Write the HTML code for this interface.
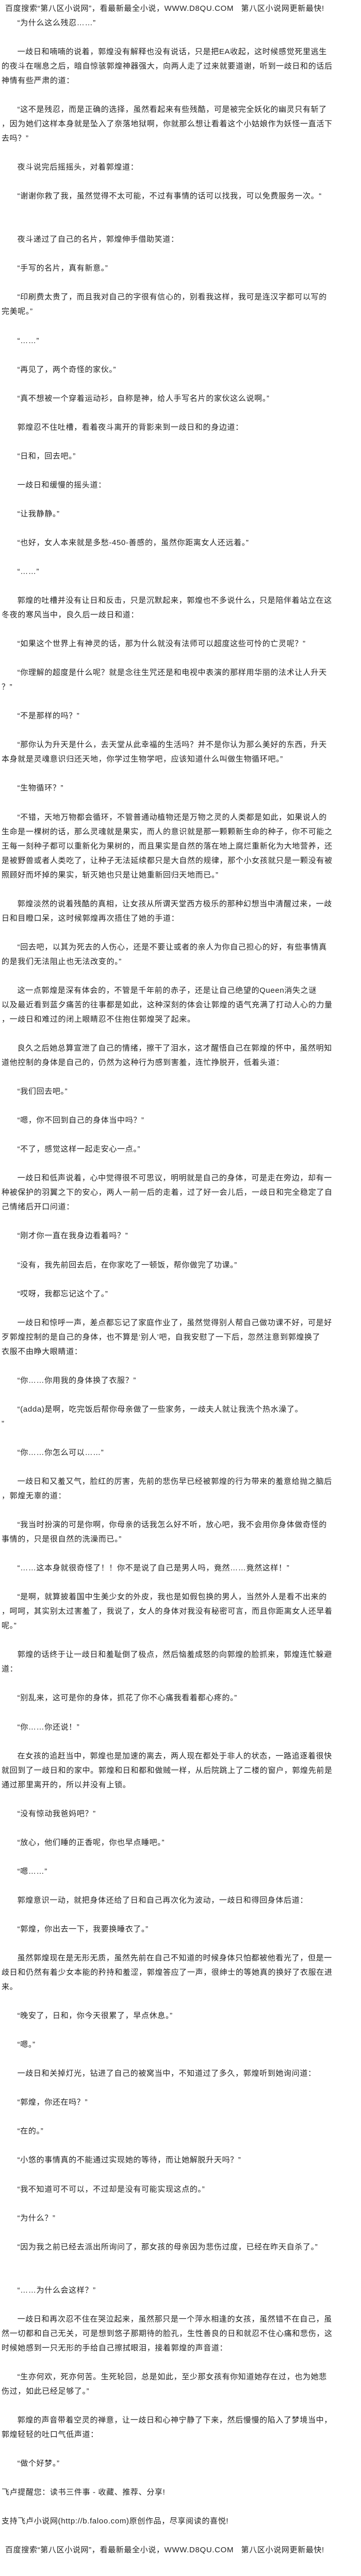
<!DOCTYPE html>
<html lang="zh-CN">
<head>
<meta charset="utf-8">
<style>
html,body{margin:0;padding:0;background:#fff;}
body{width:700px;font-family:"Liberation Sans","Noto Sans CJK SC",sans-serif;font-size:15px;letter-spacing:0.65px;color:#222;}
#w{padding-top:2.8px;width:700px;overflow:hidden;}
#w div{height:28.04px;line-height:28.04px;white-space:nowrap;overflow:hidden;padding-left:3px;}
#w div.i{padding-left:33.6px;}
#w div.h{padding-left:10px;}
</style>
</head>
<body>
<div id="w">
<div class="h">百度搜索“第八区小说网”，看最新最全小说，WWW.D8QU.COM &nbsp; 第八区小说网更新最快!</div>
<div class="i">“为什么这么残忍……”</div>
<div></div>
<div class="i">一歧日和喃喃的说着，郭煌没有解释也没有说话，只是把EA收起，这时候感觉死里逃生</div>
<div>的夜斗在喘息之后，暗自惊骇郭煌神器强大，向两人走了过来就要道谢，听到一歧日和的话后</div>
<div>神情有些严肃的道：</div>
<div></div>
<div class="i">“这不是残忍，而是正确的选择，虽然看起来有些残酷，可是被完全妖化的幽灵只有斩了</div>
<div>，因为她们这样本身就是坠入了奈落地狱啊，你就那么想让看着这个小姑娘作为妖怪一直活下</div>
<div>去吗？”</div>
<div></div>
<div class="i">夜斗说完后摇摇头，对着郭煌道：</div>
<div></div>
<div class="i">“谢谢你救了我，虽然觉得不太可能，不过有事情的话可以找我，可以免费服务一次。“</div>
<div></div>
<div></div>
<div class="i">夜斗递过了自己的名片，郭煌伸手借助笑道：</div>
<div></div>
<div class="i">“手写的名片，真有新意。”</div>
<div></div>
<div class="i">“印刷费太贵了，而且我对自己的字很有信心的，别看我这样，我可是连汉字都可以写的</div>
<div>完美呢。”</div>
<div></div>
<div class="i">“……”</div>
<div></div>
<div class="i">“再见了，两个奇怪的家伙。”</div>
<div></div>
<div class="i">“真不想被一个穿着运动衫，自称是神，给人手写名片的家伙这么说啊。”</div>
<div></div>
<div class="i">郭煌忍不住吐槽，看着夜斗离开的背影来到一歧日和的身边道：</div>
<div></div>
<div class="i">“日和，回去吧。”</div>
<div></div>
<div class="i">一歧日和缓慢的摇头道：</div>
<div></div>
<div class="i">“让我静静。”</div>
<div></div>
<div class="i">“也好，女人本来就是多愁-450-善感的，虽然你距离女人还远着。”</div>
<div></div>
<div class="i">“……”</div>
<div></div>
<div class="i">郭煌的吐槽并没有让日和反击，只是沉默起来，郭煌也不多说什么，只是陪伴着站立在这</div>
<div>冬夜的寒风当中，良久后一歧日和道：</div>
<div></div>
<div class="i">“如果这个世界上有神灵的话，那为什么就没有法师可以超度这些可怜的亡灵呢？”</div>
<div></div>
<div class="i">“你理解的超度是什么呢？就是念往生咒还是和电视中表演的那样用华丽的法术让人升天</div>
<div>？”</div>
<div></div>
<div class="i">“不是那样的吗？”</div>
<div></div>
<div class="i">“那你认为升天是什么，去天堂从此幸福的生活吗？并不是你认为那么美好的东西，升天</div>
<div>本身就是灵魂意识归还天地，你学过生物学吧，应该知道什么叫做生物循环吧。”</div>
<div></div>
<div class="i">“生物循环？”</div>
<div></div>
<div class="i">“不错，天地万物都会循环，不管普通动植物还是万物之灵的人类都是如此，如果说人的</div>
<div>生命是一棵树的话，那么灵魂就是果实，而人的意识就是那一颗颗新生命的种子，你不可能之</div>
<div>王每一刻种子都可以重新化为果树的，而且果实是自然的落在地上腐烂重新化为大地营养，还</div>
<div>是被野兽或者人类吃了，让种子无法延续都只是大自然的规律，那个小女孩就只是一颗没有被</div>
<div>照顾好而坏掉的果实，斩灭她也只是让她重新回归天地而已。”</div>
<div></div>
<div class="i">郭煌淡然的说着残酷的真相，让女孩从所谓天堂西方极乐的那种幻想当中清醒过来，一歧</div>
<div>日和目瞪口呆，这时候郭煌再次捂住了她的手道：</div>
<div></div>
<div class="i">“回去吧，以其为死去的人伤心，还是不要让或者的亲人为你自己担心的好，有些事情真</div>
<div>的是我们无法阻止也无法改变的。”</div>
<div></div>
<div class="i">这一点郭煌是深有体会的，不管是千年前的赤子，还是让自己绝望的Queen消失之谜</div>
<div>以及最近看到蓝夕痛苦的往事都是如此，这种深刻的体会让郭煌的语气充满了打动人心的力量</div>
<div>，一歧日和难过的闭上眼睛忍不住抱住郭煌哭了起来。</div>
<div></div>
<div class="i">良久之后她总算宣泄了自己的情绪，擦干了泪水，这才醒悟自己在郭煌的怀中，虽然明知</div>
<div>道他控制的身体是自己的，仍然为这种行为感到害羞，连忙挣脱开，低着头道：</div>
<div></div>
<div class="i">“我们回去吧。”</div>
<div></div>
<div class="i">“嗯，你不回到自己的身体当中吗？”</div>
<div></div>
<div class="i">“不了，感觉这样一起走安心一点。”</div>
<div></div>
<div class="i">一歧日和低声说着，心中觉得很不可思议，明明就是自己的身体，可是走在旁边，却有一</div>
<div>种被保护的羽翼之下的安心，两人一前一后的走着，过了好一会儿后，一歧日和完全稳定了自</div>
<div>己情绪后开口问道：</div>
<div></div>
<div class="i">“刚才你一直在我身边看着吗？”</div>
<div></div>
<div class="i">“没有，我先前回去后，在你家吃了一顿饭，帮你做完了功课。”</div>
<div></div>
<div class="i">“哎呀，我都忘记这个了。”</div>
<div></div>
<div class="i">一歧日和惊呼一声，差点都忘记了家庭作业了，虽然觉得别人帮自己做功课不好，可是好</div>
<div>歹郭煌控制的是自己的身体，也不算是‘别人’吧，自我安慰了一下后，忽然注意到郭煌换了</div>
<div>衣服不由睁大眼睛道：</div>
<div></div>
<div class="i">“你……你用我的身体换了衣服？”</div>
<div></div>
<div class="i">“(adda)是啊，吃完饭后帮你母亲做了一些家务，一歧夫人就让我洗个热水澡了。</div>
<div>”</div>
<div></div>
<div class="i">“你……你怎么可以……”</div>
<div></div>
<div class="i">一歧日和又羞又气，脸红的厉害，先前的悲伤早已经被郭煌的行为带来的羞意给抛之脑后</div>
<div>，郭煌无辜的道：</div>
<div></div>
<div class="i">“我当时扮演的可是你啊，你母亲的话我怎么好不听，放心吧，我不会用你身体做奇怪的</div>
<div>事情的，只是很自然的洗澡而已。”</div>
<div></div>
<div class="i">“……这本身就很奇怪了！！你不是说了自己是男人吗，竟然……竟然这样！”</div>
<div></div>
<div class="i">“是啊，就算披着国中生美少女的外皮，我也是如假包换的男人，当然外人是看不出来的</div>
<div>，呵呵，其实别太过害羞了，我说了，女人的身体对我没有秘密可言，而且你距离女人还早着</div>
<div>呢。”</div>
<div></div>
<div class="i">郭煌的话终于让一歧日和羞耻倒了极点，然后恼羞成怒的向郭煌的脸抓来，郭煌连忙躲避</div>
<div>道：</div>
<div></div>
<div class="i">“别乱来，这可是你的身体，抓花了你不心痛我看着都心疼的。”</div>
<div></div>
<div class="i">“你……你还说！”</div>
<div></div>
<div class="i">在女孩的追赶当中，郭煌也是加速的离去，两人现在都处于非人的状态，一路追逐着很快</div>
<div>就回到了一歧日和的家中。郭煌和日和都和做贼一样，从后院跳上了二楼的窗户，郭煌先前是</div>
<div>通过那里离开的，所以并没有上锁。</div>
<div></div>
<div class="i">“没有惊动我爸妈吧？”</div>
<div></div>
<div class="i">“放心，他们睡的正香呢，你也早点睡吧。”</div>
<div></div>
<div class="i">“嗯……”</div>
<div></div>
<div class="i">郭煌意识一动，就把身体还给了日和自己再次化为波动，一歧日和得回身体后道：</div>
<div></div>
<div class="i">“郭煌，你出去一下，我要换睡衣了。”</div>
<div></div>
<div class="i">虽然郭煌现在是无形无质，虽然先前在自己不知道的时候身体只怕都被他看光了，但是一</div>
<div>歧日和仍然有着少女本能的矜持和羞涩，郭煌答应了一声，很绅士的等她真的换好了衣服在进</div>
<div>来。</div>
<div></div>
<div class="i">“晚安了，日和，你今天很累了，早点休息。”</div>
<div></div>
<div class="i">“嗯。”</div>
<div></div>
<div class="i">一歧日和关掉灯光，钻进了自己的被窝当中，不知道过了多久，郭煌听到她询问道：</div>
<div></div>
<div class="i">“郭煌，你还在吗？”</div>
<div></div>
<div class="i">“在的。”</div>
<div></div>
<div class="i">“小悠的事情真的不能通过实现她的等待，而让她解脱升天吗？”</div>
<div></div>
<div class="i">“我不知道可不可以，不过却是没有可能实现这点的。”</div>
<div></div>
<div class="i">“为什么？”</div>
<div></div>
<div class="i">“因为我之前已经去派出所询问了，那女孩的母亲因为悲伤过度，已经在昨天自杀了。”</div>
<div></div>
<div></div>
<div class="i">“……为什么会这样？”</div>
<div></div>
<div class="i">一歧日和再次忍不住在哭泣起来，虽然那只是一个萍水相逢的女孩，虽然错不在自己，虽</div>
<div>然一切都和自己无关，可是想到悠子那期待的脸孔，生性善良的日和就忍不住心痛和悲伤，这</div>
<div>时候她感到一只无形的手给自己擦拭眼泪，接着郭煌的声音道：</div>
<div></div>
<div class="i">“生亦何欢，死亦何苦。生死轮回，总是如此，至少那女孩有你知道她存在过，也为她悲</div>
<div>伤过，如此已经足够了。”</div>
<div></div>
<div class="i">郭煌的声音带着空灵的禅意，让一歧日和心神宁静了下来，然后慢慢的陷入了梦境当中，</div>
<div>郭煌轻轻的吐口气低声道：</div>
<div></div>
<div class="i">“做个好梦。”</div>
<div></div>
<div>飞卢提醒您：读书三件事 - 收藏、推荐、分享!</div>
<div></div>
<div>支持飞卢小说网(http://b.faloo.com)原创作品，尽享阅读的喜悦!</div>
<div></div>
<div class="h">百度搜索“第八区小说网”，看最新最全小说，WWW.D8QU.COM &nbsp; 第八区小说网更新最快!</div>
</div>
</body>
</html>
